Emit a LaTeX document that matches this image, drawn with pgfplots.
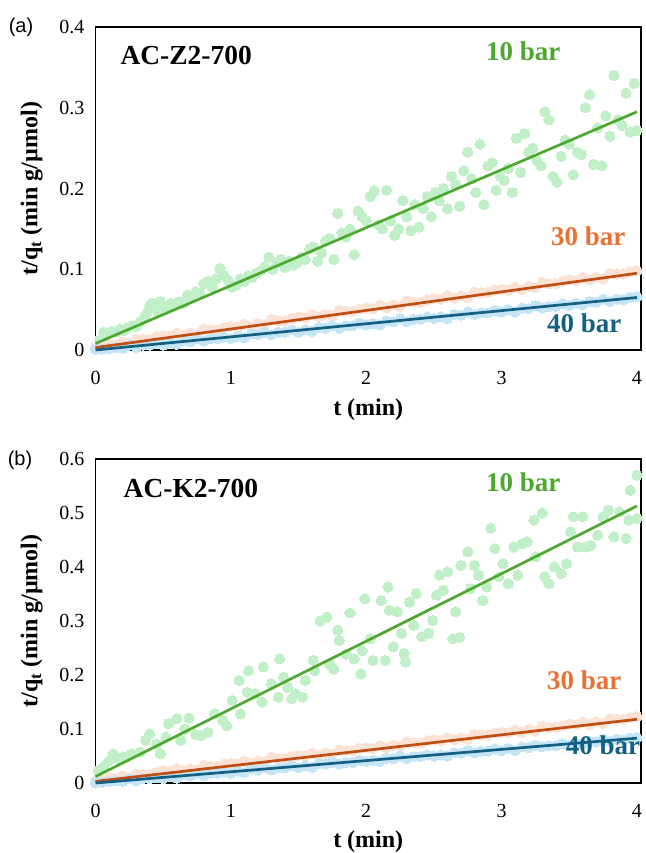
\documentclass[border=0pt]{standalone}
\usepackage{fontspec}
\setmainfont{Liberation Serif}
\newfontfamily\arialfont{Liberation Sans}
\usepackage{pgfplots}
\usepackage{pgfplotstable}
\pgfplotsset{compat=1.18}

\definecolor{gline}{HTML}{4EA72E}
\definecolor{gmark}{HTML}{C1F0C8}
\definecolor{oline}{HTML}{C04F15}
\definecolor{otext}{HTML}{E97132}
\definecolor{omark}{HTML}{FBE2D5}
\definecolor{bline}{HTML}{156082}
\definecolor{bmark}{HTML}{C3E5F6}

% 30 bar and 40 bar bands, both samples: oa/ba = AC-Z2-700, ob/bb = AC-K2-700
\pgfplotstableread{
t oa ba ob bb
0.00 0.003 0.001 0.004 0.001
0.05 0.005 0.001 0.006 0.001
0.10 0.008 0.002 0.010 0.003
0.15 0.006 0.003 0.008 0.004
0.20 0.010 0.002 0.013 0.003
0.25 0.008 0.006 0.010 0.008
0.30 0.013 0.003 0.016 0.004
0.35 0.013 0.006 0.016 0.008
0.40 0.013 0.006 0.016 0.008
0.45 0.016 0.008 0.020 0.010
0.50 0.018 0.006 0.023 0.008
0.55 0.017 0.009 0.021 0.012
0.60 0.021 0.007 0.026 0.009
0.65 0.018 0.012 0.023 0.015
0.70 0.021 0.010 0.026 0.013
0.75 0.019 0.014 0.024 0.018
0.80 0.026 0.011 0.033 0.014
0.85 0.025 0.014 0.031 0.018
0.90 0.025 0.014 0.031 0.018
0.95 0.028 0.016 0.035 0.020
1.00 0.029 0.014 0.036 0.018
1.05 0.028 0.017 0.035 0.022
1.10 0.032 0.015 0.040 0.019
1.15 0.029 0.020 0.036 0.026
1.20 0.033 0.019 0.041 0.024
1.25 0.031 0.022 0.039 0.028
1.30 0.038 0.019 0.048 0.024
1.35 0.036 0.022 0.045 0.028
1.40 0.036 0.022 0.045 0.028
1.45 0.039 0.025 0.049 0.032
1.50 0.041 0.022 0.051 0.028
1.55 0.040 0.025 0.050 0.032
1.60 0.044 0.023 0.055 0.029
1.65 0.041 0.028 0.051 0.036
1.70 0.044 0.027 0.055 0.035
1.75 0.042 0.030 0.053 0.038
1.80 0.049 0.027 0.061 0.035
1.85 0.048 0.030 0.060 0.038
1.90 0.048 0.030 0.060 0.038
1.95 0.051 0.033 0.064 0.042
2.00 0.052 0.031 0.065 0.040
2.05 0.051 0.033 0.064 0.042
2.10 0.055 0.031 0.069 0.040
2.15 0.052 0.036 0.065 0.046
2.20 0.056 0.035 0.070 0.045
2.25 0.054 0.039 0.068 0.050
2.30 0.061 0.035 0.076 0.045
2.35 0.059 0.038 0.074 0.049
2.40 0.059 0.038 0.074 0.049
2.45 0.062 0.041 0.078 0.052
2.50 0.064 0.039 0.080 0.050
2.55 0.063 0.041 0.079 0.052
2.60 0.067 0.039 0.084 0.050
2.65 0.064 0.044 0.080 0.056
2.70 0.067 0.043 0.084 0.055
2.75 0.065 0.047 0.081 0.060
2.80 0.072 0.044 0.090 0.056
2.85 0.071 0.046 0.089 0.059
2.90 0.071 0.046 0.089 0.059
2.95 0.074 0.049 0.093 0.063
3.00 0.075 0.047 0.094 0.060
3.05 0.074 0.050 0.093 0.064
3.10 0.078 0.047 0.098 0.060
3.15 0.075 0.052 0.094 0.067
3.20 0.079 0.051 0.099 0.065
3.25 0.077 0.055 0.096 0.070
3.30 0.084 0.052 0.105 0.067
3.35 0.082 0.054 0.103 0.069
3.40 0.082 0.054 0.103 0.069
3.45 0.085 0.057 0.106 0.073
3.50 0.087 0.055 0.109 0.070
3.55 0.086 0.058 0.108 0.074
3.60 0.090 0.056 0.113 0.072
3.65 0.087 0.060 0.109 0.077
3.70 0.090 0.059 0.113 0.076
3.75 0.088 0.063 0.110 0.081
3.80 0.095 0.060 0.119 0.077
3.85 0.094 0.063 0.118 0.081
3.90 0.094 0.062 0.118 0.079
3.95 0.097 0.065 0.121 0.083
4.00 0.098 0.066 0.123 0.084
}\bandtab

% 10 bar, AC-Z2-700
\pgfplotstableread{
t y
0.00 0.002
0.03 0.012
0.06 0.022
0.09 0.020
0.12 0.023
0.15 0.022
0.18 0.026
0.21 0.024
0.24 0.028
0.27 0.030
0.30 0.029
0.33 0.035
0.36 0.040
0.38 0.046
0.40 0.055
0.42 0.058
0.44 0.052
0.46 0.048
0.48 0.060
0.50 0.055
0.53 0.052
0.56 0.058
0.59 0.056
0.62 0.060
0.65 0.058
0.68 0.068
0.71 0.066
0.74 0.072
0.77 0.070
0.80 0.082
0.83 0.085
0.86 0.078
0.89 0.088
0.92 0.101
0.95 0.092
0.98 0.086
1.01 0.078
1.04 0.080
1.07 0.088
1.10 0.085
1.13 0.092
1.16 0.090
1.19 0.095
1.22 0.098
1.25 0.103
1.28 0.115
1.31 0.100
1.34 0.108
1.37 0.112
1.40 0.102
1.43 0.110
1.46 0.105
1.49 0.108
1.52 0.115
1.55 0.112
1.58 0.125
1.61 0.128
1.64 0.110
1.67 0.120
1.70 0.135
1.73 0.138
1.76 0.112
1.79 0.169
1.82 0.145
1.85 0.140
1.88 0.150
1.91 0.118
1.94 0.172
1.97 0.165
2.00 0.160
2.03 0.190
2.06 0.197
2.09 0.155
2.12 0.150
2.15 0.198
2.18 0.160
2.21 0.142
2.24 0.150
2.27 0.185
2.30 0.165
2.33 0.148
2.36 0.180
2.39 0.152
2.42 0.175
2.45 0.190
2.48 0.165
2.51 0.195
2.54 0.185
2.57 0.200
2.60 0.175
2.63 0.215
2.66 0.205
2.69 0.178
2.72 0.222
2.75 0.245
2.78 0.212
2.81 0.195
2.84 0.255
2.87 0.180
2.90 0.228
2.93 0.232
2.96 0.198
2.99 0.215
3.02 0.210
3.05 0.225
3.08 0.195
3.11 0.262
3.14 0.220
3.17 0.268
3.20 0.245
3.23 0.250
3.26 0.235
3.29 0.228
3.32 0.295
3.35 0.285
3.38 0.215
3.41 0.208
3.44 0.240
3.47 0.260
3.50 0.255
3.53 0.217
3.56 0.245
3.59 0.242
3.62 0.300
3.65 0.316
3.68 0.230
3.71 0.275
3.74 0.228
3.77 0.290
3.80 0.265
3.83 0.340
3.86 0.285
3.89 0.278
3.92 0.318
3.95 0.270
3.98 0.330
4.00 0.272
}\greenA

% 10 bar, AC-K2-700
\pgfplotstableread{
t y
0.00 0.000
0.02 0.023
0.06 0.030
0.10 0.041
0.13 0.054
0.17 0.045
0.20 0.048
0.24 0.050
0.27 0.054
0.33 0.057
0.37 0.079
0.40 0.091
0.45 0.072
0.48 0.054
0.52 0.085
0.54 0.110
0.60 0.119
0.63 0.079
0.66 0.100
0.69 0.120
0.74 0.090
0.78 0.088
0.83 0.094
0.88 0.128
0.94 0.116
0.97 0.106
1.01 0.153
1.06 0.190
1.07 0.128
1.12 0.168
1.13 0.208
1.18 0.165
1.23 0.150
1.24 0.215
1.30 0.184
1.35 0.159
1.36 0.230
1.39 0.196
1.42 0.177
1.45 0.156
1.48 0.165
1.53 0.159
1.55 0.190
1.61 0.227
1.62 0.208
1.66 0.300
1.71 0.307
1.73 0.220
1.76 0.211
1.79 0.283
1.80 0.264
1.85 0.239
1.88 0.315
1.91 0.230
1.96 0.202
1.97 0.245
1.99 0.341
2.03 0.267
2.05 0.227
2.11 0.338
2.14 0.227
2.16 0.363
2.17 0.320
2.20 0.252
2.23 0.317
2.26 0.277
2.28 0.240
2.29 0.224
2.32 0.335
2.35 0.292
2.37 0.351
2.41 0.271
2.46 0.277
2.49 0.301
2.52 0.348
2.54 0.385
2.57 0.357
2.60 0.391
2.64 0.267
2.66 0.317
2.69 0.270
2.70 0.403
2.75 0.428
2.77 0.360
2.80 0.403
2.83 0.385
2.86 0.338
2.89 0.363
2.92 0.472
2.95 0.434
2.98 0.382
3.01 0.406
3.05 0.369
3.09 0.437
3.12 0.385
3.15 0.443
3.19 0.447
3.24 0.487
3.25 0.419
3.30 0.500
3.32 0.382
3.35 0.369
3.39 0.400
3.44 0.388
3.48 0.406
3.51 0.465
3.53 0.493
3.56 0.437
3.60 0.493
3.62 0.437
3.66 0.440
3.71 0.459
3.75 0.493
3.79 0.505
3.83 0.456
3.87 0.502
3.92 0.453
3.94 0.487
3.95 0.542
4.00 0.570
4.00 0.490
}\greenB

\pgfplotsset{
  panel/.style={
    scale only axis, width=545.5pt,
    xmin=0, xmax=4.03, ymin=0,
    xtick={0,1,2,3,4},
    major tick length=0pt,
    axis line style={line width=1.2pt},
    clip=false, clip marker paths=true,
    tick label style={font=\fontsize{20}{24}\selectfont},
    /pgf/number format/assume math mode=true,
    xticklabel style={anchor=center, yshift=-28pt},
    yticklabel style={anchor=east, inner sep=0pt, xshift=-11pt},
    label style={font=\bfseries\fontsize{24}{28}\selectfont},
    xlabel={t (min)},
    ylabel={t/q\textsubscript{t} (min g/µmol)},
    ylabel style={at={(axis description cs:-0.117,0.5)}, anchor=center},
  },
  scat/.style={only marks, mark=*, mark size=5.1pt, color=#1, mark options={draw=#1, fill=#1, line width=0pt}},
  fitline/.style={no marks, line width=2.7pt, #1},
}
\tikzset{tag/.style={font=\bfseries\fontsize{27}{31}\selectfont, text=#1}}

\begin{document}
\begin{tikzpicture}
\useasboundingbox (0,0) rectangle (645pt,853pt);

\node[font=\arialfont\fontsize{20}{24}\selectfont] at (21pt,826pt) {(a)};
\node[font=\arialfont\fontsize{20}{24}\selectfont] at (20pt,393pt) {(b)};

\begin{axis}[panel, at={(95.5pt,503pt)}, anchor=south west, height=323pt,
  ymax=0.4, ytick={0,0.1,0.2,0.3,0.4},
  xlabel style={at={(axis description cs:0.5,-0.186)}, anchor=center}]
  \addplot[scat=gmark] table[x=t, y=y] {\greenA};
  \addplot[scat=omark] table[x=t, y=oa] {\bandtab};
  \addplot[scat=bmark] table[x=t, y=ba] {\bandtab};
  \addplot[fitline=gline] coordinates {(0,0.008) (4,0.295)};
  \addplot[fitline=oline] coordinates {(0,0.003) (4,0.095)};
  \addplot[fitline=bline] coordinates {(0,0.000) (4,0.065)};
  \node[font=\bfseries\fontsize{27.5}{31}\selectfont] at (axis cs:0.67,0.365) {AC-Z2-700};
  \node[tag=gline] at (axis cs:3.16,0.370) {10 bar};
  \node[tag=otext] at (axis cs:3.64,0.141) {30 bar};
  \node[tag=bline] at (axis cs:3.61,0.033) {40 bar};
\end{axis}

\begin{axis}[panel, at={(95.5pt,70pt)}, anchor=south west, height=324pt,
  ymax=0.6, ytick={0,0.1,0.2,0.3,0.4,0.5,0.6},
  xlabel style={at={(axis description cs:0.5,-0.182)}, anchor=center}]
  \addplot[scat=gmark] table[x=t, y=y] {\greenB};
  \addplot[scat=omark] table[x=t, y=ob] {\bandtab};
  \addplot[scat=bmark] table[x=t, y=bb] {\bandtab};
  \addplot[fitline=gline] coordinates {(0,0.012) (4,0.513)};
  \addplot[fitline=oline] coordinates {(0,0.003) (4,0.118)};
  \addplot[fitline=bline] coordinates {(0,0.000) (4,0.083)};
  \node[font=\bfseries\fontsize{27.5}{31}\selectfont] at (axis cs:0.705,0.546) {AC-K2-700};
  \node[tag=gline] at (axis cs:3.16,0.557) {10 bar};
  \node[tag=otext] at (axis cs:3.61,0.190) {30 bar};
  \node[tag=bline] at (axis cs:3.75,0.070) {40 bar};
\end{axis}
\end{tikzpicture}
\end{document}
